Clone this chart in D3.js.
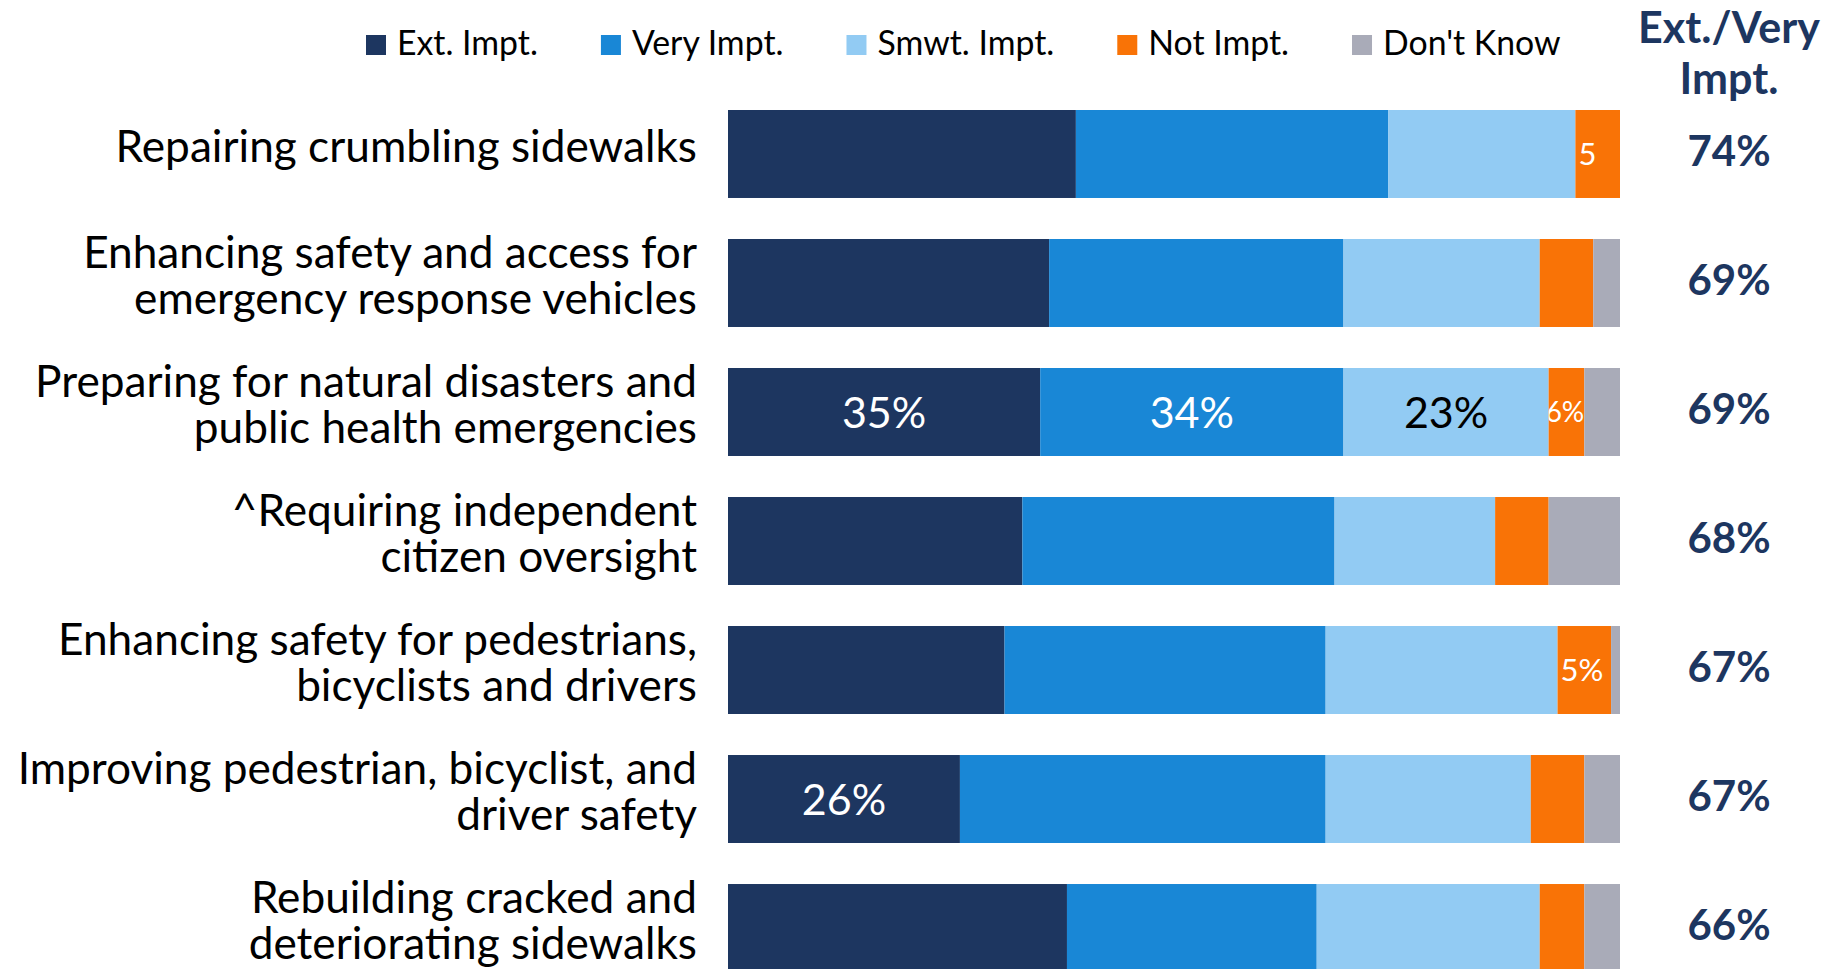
<!DOCTYPE html>
<html>
<head>
<meta charset="utf-8">
<script src="https://cdn.jsdelivr.net/npm/d3@7"></script>
<style>
  body { margin: 0; background: #ffffff; }
  svg { display: block; font-family: Lato, "Open Sans", sans-serif; }
</style>
</head>
<body>
<script>
// categories (line breaks = label wrap)
var categories = [
    "Repairing crumbling sidewalks",
    "Enhancing safety and access for\nemergency response vehicles",
    "Preparing for natural disasters and\npublic health emergencies",
    "^Requiring independent\ncitizen oversight",
    "Enhancing safety for pedestrians,\nbicyclists and drivers",
    "Improving pedestrian, bicyclist, and\ndriver safety",
    "Rebuilding cracked and\ndeteriorating sidewalks"
];
var seriesNames = ["Ext. Impt.", "Very Impt.", "Smwt. Impt.", "Not Impt.", "Don't Know"];

// percentages per row
var extImpt   = [39, 36, 35, 33, 31, 26, 38];
var veryImpt  = [35, 33, 34, 35, 36, 41, 28];
var smwtImpt  = [21, 22, 23, 18, 26, 23, 25];
var notImpt   = [ 5,  6,  4,  6,  6,  6,  5];
var dontKnow  = [ 0,  3,  4,  8,  1,  4,  4];

// labels printed inside the bars
var barLabels = [
    {row: 0, series: 3, text: "5"},
    {row: 2, series: 0, text: "35%"},
    {row: 2, series: 1, text: "34%"},
    {row: 2, series: 2, text: "23%"},
    {row: 2, series: 3, text: "6%"},
    {row: 4, series: 3, text: "5%"},
    {row: 5, series: 0, text: "26%"}
];

var colors = ["#1d3660", "#1987d6", "#92cbf3", "#f97306", "#a9abb8"];
var navy = "#1d3660";

var width = 1839, height = 969;

var svg = d3.select("body").append("svg")
    .attr("width", width)
    .attr("height", height);

// build table for stacking
var table = categories.map(function (c, i) {
    return {
        cat: i,
        "Ext. Impt.": extImpt[i],
        "Very Impt.": veryImpt[i],
        "Smwt. Impt.": smwtImpt[i],
        "Not Impt.": notImpt[i],
        "Don't Know": dontKnow[i]
    };
});
var stacked = d3.stack().keys(seriesNames)(table);

var x = d3.scaleLinear().domain([0, 100]).range([728, 1620]);
var y = d3.scaleBand()
    .domain(d3.range(categories.length))
    .range([110, 972])
    .paddingInner(0.318)
    .paddingOuter(0);
var color = d3.scaleOrdinal().domain(seriesNames).range(colors);

// bars
var groups = svg.selectAll("g.series").data(stacked).enter()
    .append("g")
    .attr("class", "series")
    .attr("fill", function (d) { return color(d.key); });

groups.selectAll("rect").data(function (d) { return d; }).enter()
    .append("rect")
    .attr("x", function (d) { return x(d[0]); })
    .attr("y", function (d, i) { return y(i); })
    .attr("width", function (d) { return x(d[1]) - x(d[0]); })
    .attr("height", y.bandwidth());

// clip paths for in-bar labels
var defs = svg.append("defs");
barLabels.forEach(function (l, k) {
    var seg = stacked[l.series][l.row];
    defs.append("clipPath").attr("id", "clip" + k)
        .append("rect")
        .attr("x", x(seg[0]))
        .attr("y", y(l.row))
        .attr("width", x(seg[1]) - x(seg[0]))
        .attr("height", y.bandwidth());
});

var segText = svg.selectAll("text.seg").data(barLabels).enter()
    .append("text")
    .attr("class", "seg")
    .attr("clip-path", function (d, k) { return "url(#clip" + k + ")"; })
    .attr("y", function (d) {
        var small = d.series == 3;
        return y(d.row) + y.bandwidth() / 2 + (small ? 11 : 16);
    })
    .attr("font-size", function (d) { return d.series == 3 ? "31px" : "43px"; })
    .attr("fill", function (d) { return d.series == 2 ? "#000000" : "#ffffff"; })
    .text(function (d) { return d.text; });

// big labels centred, small ones sit at the segment start
// (or shrink a bit and hug the end when they are too wide)
segText.each(function (d) {
    var seg = stacked[d.series][d.row];
    var x0 = x(seg[0]), x1 = x(seg[1]);
    var t = d3.select(this);
    var w = this.getComputedTextLength();
    if (d.series != 3) {
        t.attr("x", (x0 + x1) / 2).attr("text-anchor", "middle");
    } else if (w + 4 < x1 - x0) {
        t.attr("x", x0 + 3).attr("text-anchor", "start");
    } else {
        var fs = 31 * (x1 - x0 + 3) / w;
        t.attr("font-size", fs + "px")
            .attr("y", y(d.row) + y.bandwidth() / 2 + 10)
            .attr("x", x1).attr("text-anchor", "end");
    }
});

// category labels, right aligned
var lineGap = 46;
var catText = svg.selectAll("text.cat").data(categories).enter()
    .append("text")
    .attr("class", "cat")
    .attr("text-anchor", "end")
    .attr("font-size", "44.2px")
    .attr("fill", "#000000");

catText.each(function (d, i) {
    var lines = d.split("\n");
    var cy = y(i) + y.bandwidth() / 2;
    var t = d3.select(this);
    lines.forEach(function (ln, j) {
        t.append("tspan")
            .attr("x", 697)
            .attr("y", cy + 8 + (j - (lines.length - 1) / 2) * lineGap)
            .text(ln);
    });
});

// Ext./Very column
var topTwo = categories.map(function (c, i) { return extImpt[i] + veryImpt[i]; });
var colX = 1729;

svg.append("text")
    .attr("x", colX).attr("y", 43)
    .attr("text-anchor", "middle")
    .attr("font-size", "43px").attr("font-weight", "bold")
    .attr("fill", navy)
    .text("Ext./Very");
svg.append("text")
    .attr("x", colX).attr("y", 94)
    .attr("text-anchor", "middle")
    .attr("font-size", "43px").attr("font-weight", "bold")
    .attr("fill", navy)
    .text("Impt.");

svg.selectAll("text.tot").data(topTwo).enter()
    .append("text")
    .attr("class", "tot")
    .attr("x", colX)
    .attr("y", function (d, i) { return y(i) + y.bandwidth() / 2 + 12; })
    .attr("text-anchor", "middle")
    .attr("font-size", "42px").attr("font-weight", "bold")
    .attr("fill", navy)
    .text(function (d) { return d + "%"; });

// legend, laid out left to right
var legend = svg.append("g");
var lx = 366;
seriesNames.forEach(function (name) {
    legend.append("rect")
        .attr("x", lx).attr("y", 35)
        .attr("width", 20).attr("height", 20)
        .attr("fill", color(name));
    var t = legend.append("text")
        .attr("x", lx + 31).attr("y", 55)
        .attr("font-size", "33.8px")
        .attr("fill", "#000000")
        .text(name);
    lx = lx + 31 + t.node().getComputedTextLength() + 63;
});
</script>
</body>
</html>
